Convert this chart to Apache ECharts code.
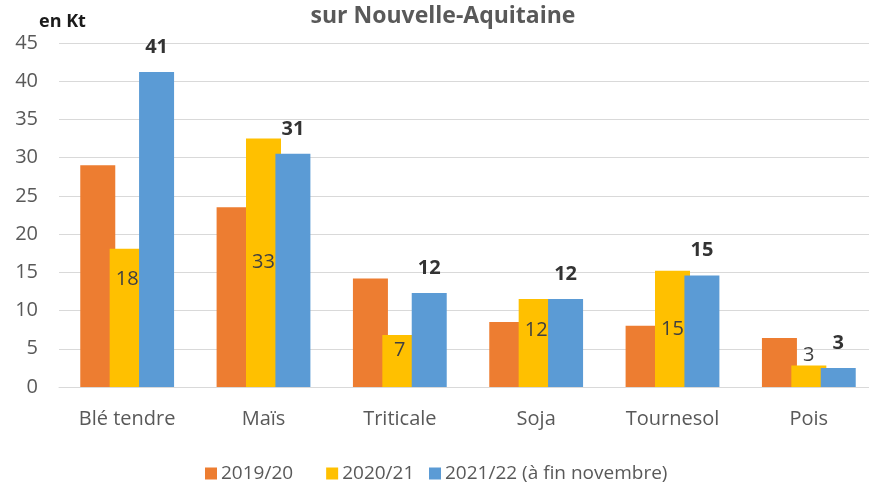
<!DOCTYPE html>
<html>
<head>
<meta charset="utf-8">
<script src="https://cdn.jsdelivr.net/npm/echarts@6/dist/echarts.min.js"></script>
<style>
  html, body { margin: 0; padding: 0; background: #fff; overflow: hidden; }
  /* la zone de tracé déborde à droite, comme sur l'original (coupé) */
  #main { width: 877px; height: 485px; }
</style>
</head>
<body>
<div id="main"></div>
<script>
// données (en Kt)
var categories = ['Blé tendre', 'Maïs', 'Triticale', 'Soja', 'Tournesol', 'Pois'];
var seriesNames = ['2019/20', '2020/21', '2021/22 (à fin novembre)'];
var val2019 = [29.0, 23.5, 14.2, 8.5, 8.0, 6.4];
var val2020 = [18.1, 32.5, 6.8, 11.5, 15.2, 2.8];
var val2021 = [41.2, 30.5, 12.3, 11.5, 14.6, 2.5];

var FONT = '"Open Sans", "Liberation Sans", sans-serif';

// placement des étiquettes 2020/21 (à la main, comme sur l'original)
var yellowPos = ['insideTop', 'inside', 'insideTop', 'insideTop', 'inside', 'top'];
var yellowDist = [21, 5, 5, 21, 5, 0];

var chart = echarts.init(document.getElementById('main'), null, { renderer: 'canvas' });

var legendText = { fontFamily: FONT, fontSize: 19, color: '#595959', padding: [0, 0, 0, -1] };

var option = {
  backgroundColor: '#ffffff',
  animation: false,
  title: [{
    text: 'sur Nouvelle-Aquitaine',
    left: 438,
    textAlign: 'center',
    top: 0,
    textStyle: { fontFamily: FONT, fontSize: 23, fontWeight: 'bold', color: '#595959' }
  }, {
    text: 'en Kt',
    left: 34,
    top: 8,
    textStyle: { fontFamily: FONT, fontSize: 18, fontWeight: 'bold', color: '#1a1a1a' }
  }],
  legend: [{
    data: [seriesNames[0], seriesNames[1]],
    left: 200,
    top: 459,
    itemWidth: 12,
    itemHeight: 12,
    itemGap: 33,
    icon: 'rect',
    textStyle: legendText
  }, {
    data: [seriesNames[2]],
    left: 424,
    top: 459,
    itemWidth: 12,
    itemHeight: 12,
    icon: 'rect',
    textStyle: legendText
  }],
  grid: { left: 59, top: 43, width: 818, height: 344 },
  xAxis: {
    type: 'category',
    data: categories,
    axisLine: { lineStyle: { color: '#d9d9d9', width: 1 } },
    axisTick: { show: false },
    axisLabel: { fontFamily: FONT, fontSize: 20, color: '#595959', margin: 22 }
  },
  yAxis: {
    type: 'value',
    min: 0,
    max: 45,
    interval: 5,
    axisLine: { show: false },
    axisTick: { show: false },
    splitLine: { lineStyle: { color: '#d9d9d9', width: 1 } },
    axisLabel: { fontFamily: FONT, fontSize: 20, color: '#595959', margin: 21 }
  },
  series: [{
    name: seriesNames[0],
    type: 'bar',
    data: val2019,
    barWidth: 35,
    barGap: '-16%',
    itemStyle: { color: '#ED7D31' }
  }, {
    name: seriesNames[1],
    type: 'bar',
    barWidth: 35,
    barGap: '-16%',
    itemStyle: { color: '#FFC000' },
    data: val2020.map(function (v, i) {
      return {
        value: v,
        label: {
          show: true,
          position: yellowPos[i],
          distance: yellowDist[i],
          formatter: function (p) { return Math.round(p.value); },
          fontFamily: FONT,
          fontSize: 20,
          color: '#404040'
        }
      };
    })
  }, {
    name: seriesNames[2],
    type: 'bar',
    data: val2021,
    barWidth: 35,
    barGap: '-16%',
    itemStyle: { color: '#5B9BD5' },
    label: {
      show: true,
      position: 'top',
      distance: 15,
      formatter: function (p) { return Math.round(p.value); },
      fontFamily: FONT,
      fontSize: 20,
      fontWeight: 'bold',
      color: '#333333'
    }
  }]
};

chart.setOption(option);
</script>
</body>
</html>
